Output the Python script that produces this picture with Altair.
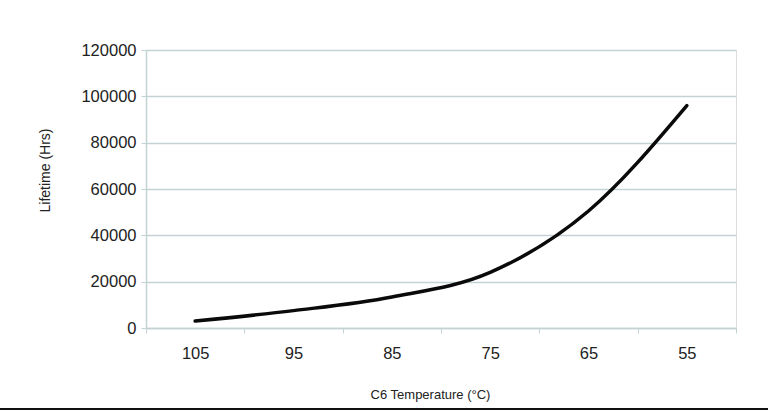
import altair as alt
import pandas as pd

temps = ["105", "95", "85", "75", "65", "55"]
lifetime = [3000, 7500, 13400, 24000, 50500, 96000]

df = pd.DataFrame({"temp": temps, "life": lifetime})

grid = "#c3d2d3"
text = "#222222"

line = alt.Chart(df).mark_line(
    color="#0a0a0a", strokeWidth=3.5, interpolate="monotone", strokeCap="round"
).encode(
    x=alt.X("temp:N", sort=temps,
            scale=alt.Scale(paddingInner=0, paddingOuter=0),
            axis=alt.Axis(title="C6 Temperature (°C)", labelAngle=0,
                          tickBand="extent", tickSize=5, tickColor=grid,
                          domainColor=grid, domainWidth=1.5, labelFontSize=16.5,
                          labelColor=text, labelPadding=12, labelFont="Liberation Sans",
                          titleFont="Liberation Sans", titleFontSize=13,
                          titleFontWeight="normal", titleColor=text,
                          titleX=284, titleY=66, titleAlign="center", titleBaseline="middle",
                          grid=False)),
    y=alt.Y("life:Q", scale=alt.Scale(domain=[0, 120000], nice=False),
            axis=alt.Axis(title="Lifetime (Hrs)", values=[0, 20000, 40000, 60000, 80000, 100000, 120000],
                          format="d", tickSize=5, tickColor=grid, domainColor=grid,
                          domainWidth=1.5, gridColor=grid, gridWidth=1.5,
                          labelFontSize=16.5, labelColor=text, labelPadding=5,
                          labelFont="Liberation Sans", titleFont="Liberation Sans",
                          titleFontSize=14, titleFontWeight="normal", titleColor=text,
                          titleX=-101, titleY=120, titleAlign="center", titleBaseline="middle")),
)

bottom = alt.Chart(df).mark_rule(color="#111111", strokeWidth=2).encode(
    x=alt.value(-146), x2=alt.value(622), y=alt.value(359)
)

chart = alt.layer(line, bottom).properties(
    width=590, height=278,
    autosize=alt.AutoSizeParams(type="none"),
    padding={"left": 146, "top": 50, "right": 32, "bottom": 83},
).configure_view(stroke=grid, strokeWidth=1.5).configure(background="white")

chart.save("out.html", embed_options={"renderer": "svg", "actions": False})
